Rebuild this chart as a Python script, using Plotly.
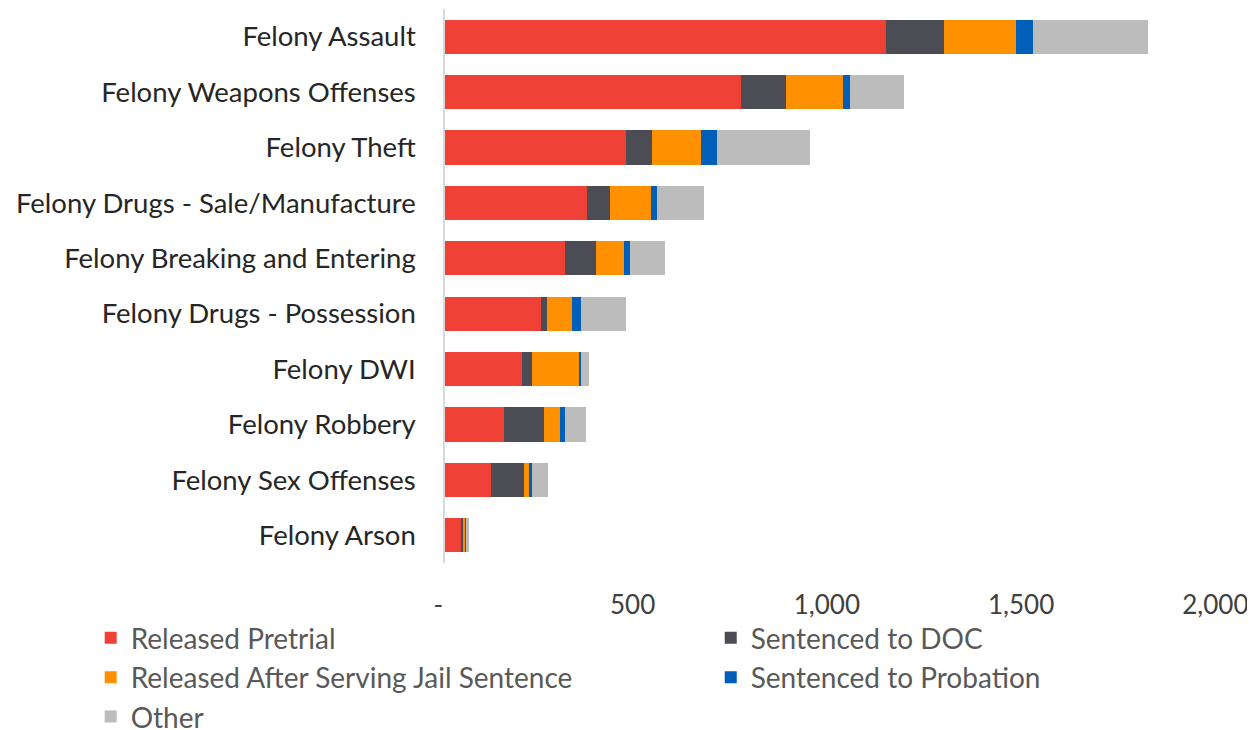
import plotly.graph_objects as go

# offence categories, top to bottom
categories = [
    "Felony Assault",
    "Felony Weapons Offenses",
    "Felony Theft",
    "Felony Drugs - Sale/Manufacture",
    "Felony Breaking and Entering",
    "Felony Drugs - Possession",
    "Felony DWI",
    "Felony Robbery",
    "Felony Sex Offenses",
    "Felony Arson",
]

# values
released_pretrial = [1135, 762, 465, 365, 309, 247, 197, 153, 119, 41]
sentenced_doc = [150, 116, 68, 60, 79, 15, 27, 102, 84, 6]
released_jail = [185, 146, 126, 106, 72, 65, 123, 41, 14, 6]
sentenced_probation = [44, 19, 41, 14, 17, 24, 4, 14, 8, 1]
other = [295, 139, 239, 122, 88, 114, 20, 53, 40, 7]

tick_vals = [0, 500, 1000, 1500, 2000]
tick_text = ["-", "500", "1,000", "1,500", "2,000"]

series = [
    ("Released Pretrial", released_pretrial, "#EF4136", "legend"),
    ("Sentenced to DOC", sentenced_doc, "#4B4C54", "legend2"),
    ("Released After Serving Jail Sentence", released_jail, "#FF9100", "legend"),
    ("Sentenced to Probation", sentenced_probation, "#005FB8", "legend2"),
    ("Other", other, "#BCBCBC", "legend"),
]

fig = go.Figure()
for name, vals, color, leg in series:
    fig.add_trace(go.Bar(
        y=categories, x=vals, name=name, orientation="h",
        marker=dict(color=color, line=dict(width=0)),
        legend=leg, legendgroup=name,
    ))

font = "Lato, 'Open Sans', sans-serif"
legend_style = dict(
    orientation="v", traceorder="grouped", tracegroupgap=0,
    font=dict(family=font, size=28, color="#595959"),
    bgcolor="rgba(0,0,0,0)", yanchor="top", xanchor="left",
    itemwidth=30,
)

# accounting-style labels sit a little left of their tick
padded = [t + "\u00a0\u00a0" for t in tick_text]

# the page body has an 8px margin, so the figure is 8px smaller each way
fig.update_layout(
    width=1247, height=722,
    barmode="stack", bargap=0.38,
    plot_bgcolor="white", paper_bgcolor="white",
    margin=dict(l=437, r=33, t=1, b=167, autoexpand=False),
    font=dict(family=font, size=27.5, color="#262626"),
    xaxis=dict(
        range=[0, 2000], tickvals=tick_vals, ticktext=padded,
        ticklabeloverflow="allow",
        showgrid=False, zeroline=False, showline=False,
        tickfont=dict(size=26, color="#404040"), ticklabelstandoff=24,
    ),
    yaxis=dict(
        categoryorder="array", categoryarray=categories, autorange="reversed",
        showgrid=False, zeroline=False, showline=True,
        linecolor="#D9D9D9", linewidth=1.5, ticks="",
        tickfont=dict(size=27.5, color="#262626"), ticklabelstandoff=22,
    ),
    legend=dict(x=-0.456, y=-0.0904, **legend_style),
    legend2=dict(x=0.342, y=-0.0904, **legend_style),
)

fig.write_html("out.html")
